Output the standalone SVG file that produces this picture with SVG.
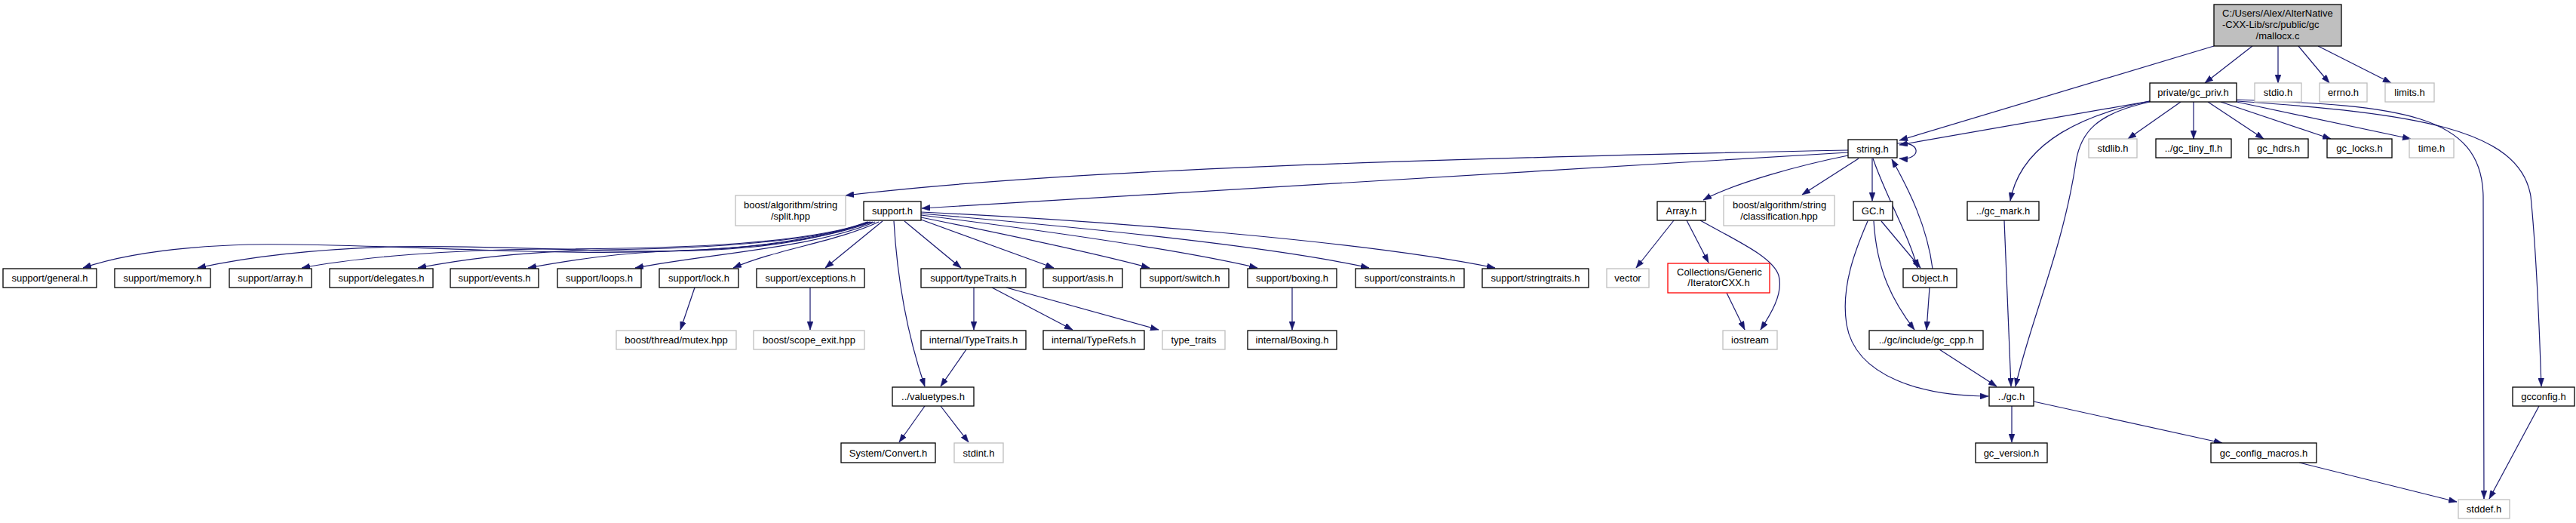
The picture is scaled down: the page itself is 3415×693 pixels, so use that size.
<svg xmlns="http://www.w3.org/2000/svg" width="3415" height="693" viewBox="0 0 3415 693">
<style>
.n rect{fill:#fff;stroke:#000;stroke-width:1.3}
.n.x rect{stroke:#bfbfbf}
.n.r rect{stroke:#ff0000}
.n.m rect{fill:#bfbfbf}
text{font-family:"Liberation Sans",Arial,sans-serif;font-size:13px;text-anchor:middle;fill:#000}
text.l{text-anchor:start}
.e path{fill:none;stroke:#191970;stroke-width:1.2;marker-end:url(#a)}
</style>
<defs>
<marker id="a" markerUnits="userSpaceOnUse" markerWidth="11" markerHeight="8" viewBox="0 0 11 8" refX="11" refY="4" orient="auto">
<path d="M0,0 L11,4 L0,8 z" fill="#191970" stroke="#191970" stroke-width="0.5"/>
</marker>
</defs>
<rect width="3415" height="693" fill="#fff"/>
<g id="edges" class="e">
<path d="M2935,61 L2518,186"/>
<path d="M2986,61 L2923,110"/>
<path d="M3020,61 L3020,110"/>
<path d="M3047,61 L3088,110"/>
<path d="M3073,61 L3170,110"/>
<path d="M2850,134 L2518,192"/>
<path d="M2891,135 L2821,184"/>
<path d="M2908,135 L2908,184"/>
<path d="M2927,135 L3001,184"/>
<path d="M2944,135 L3090,184"/>
<path d="M2965,135 L3196,184"/>
<path d="M2850,134 C2770,150 2680,185 2665,266"/>
<path d="M2850,135 C2780,150 2758,175 2752,215 C2735,330 2690,430 2672,512"/>
<path d="M2965,132 C3180,140 3290,150 3292,260 L3293,661"/>
<path d="M2965,134 C3200,150 3340,170 3355,260 C3362,330 3366,420 3369,512"/>
<path d="M2515,190 C2548,186 2548,213 2518,210"/>
<path d="M2450,199 C1900,210 1400,225 1121,259"/>
<path d="M2450,202 L1222,276"/>
<path d="M2450,206 C2390,218 2300,242 2258,265"/>
<path d="M2464,210 L2389,258"/>
<path d="M2482,210 L2482,266"/>
<path d="M2483,210 C2500,260 2530,310 2542,355"/>
<path d="M2562,356 C2555,300 2530,250 2508,211"/>
<path d="M1150,294 C1050,330 900,338 700,333 C550,329 420,322 330,324 C230,327 160,338 110,355"/>
<path d="M1151,294 C1060,328 950,336 800,332 C700,329 600,325 520,327 C420,330 330,340 262,355"/>
<path d="M1153,294 C1070,322 920,330 720,330 C600,331 480,340 400,355"/>
<path d="M1155,294 C1080,320 950,329 800,331 C700,333 620,342 554,355"/>
<path d="M1157,294 C1090,318 1000,329 900,332 C820,335 760,344 700,355"/>
<path d="M1160,294 C1080,328 950,335 842,355"/>
<path d="M1165,294 C1110,320 1030,330 972,355"/>
<path d="M1170,293 L1094,355"/>
<path d="M1185,293 C1190,380 1205,450 1226,512"/>
<path d="M1199,293 L1274,355"/>
<path d="M1221,291 L1397,355"/>
<path d="M1221,288 C1330,310 1450,335 1524,355"/>
<path d="M1221,285 C1380,305 1560,330 1667,355"/>
<path d="M1221,283 C1420,300 1680,325 1815,355"/>
<path d="M1221,281 C1450,292 1800,318 1982,355"/>
<path d="M921,381 L902,437"/>
<path d="M1074,381 L1074,437"/>
<path d="M1291,381 L1291,437"/>
<path d="M1315,381 L1422,437"/>
<path d="M1334,381 L1536,437"/>
<path d="M1713,381 L1713,437"/>
<path d="M1281,463 L1247,512"/>
<path d="M1226,538 L1192,586"/>
<path d="M1247,538 L1284,586"/>
<path d="M2219,292 L2169,355"/>
<path d="M2236,292 L2265,348"/>
<path d="M2254,292 C2300,318 2350,340 2358,365 C2365,390 2345,420 2334,437"/>
<path d="M2289,388 L2313,437"/>
<path d="M2494,293 L2546,355"/>
<path d="M2484,293 C2488,360 2510,400 2538,437"/>
<path d="M2476,293 C2460,330 2440,380 2448,430 C2460,500 2550,525 2636,525"/>
<path d="M2558,381 L2554,437"/>
<path d="M2571,463 L2647,512"/>
<path d="M2657,292 L2666,512"/>
<path d="M2667,538 L2667,586"/>
<path d="M2696,532 L2946,587"/>
<path d="M3048,613 L3257,665"/>
<path d="M3366,538 L3300,661"/>
</g>
<g id="n_main" class="n m"><rect x="2935" y="6" width="169" height="55"/><text class="l" x="2946" y="22">C:/Users/Alex/AlterNative</text><text class="l" x="2946" y="37">-CXX-Lib/src/public/gc</text><text x="3019.5" y="52">/mallocx.c</text></g>
<g id="n_gc_priv" class="n"><rect x="2850" y="110" width="115" height="25"/><text x="2907.5" y="127">private/gc_priv.h</text></g>
<g id="n_stdio" class="n x"><rect x="2989" y="110" width="62" height="25"/><text x="3020" y="127">stdio.h</text></g>
<g id="n_errno" class="n x"><rect x="3075" y="110" width="63" height="25"/><text x="3106.5" y="127">errno.h</text></g>
<g id="n_limits" class="n x"><rect x="3162" y="110" width="65" height="25"/><text x="3194.5" y="127">limits.h</text></g>
<g id="n_string" class="n"><rect x="2450" y="185" width="65" height="24"/><text x="2482.5" y="201.5">string.h</text></g>
<g id="n_stdlib" class="n x"><rect x="2769" y="184" width="64" height="25"/><text x="2801" y="201">stdlib.h</text></g>
<g id="n_gc_tiny_fl" class="n"><rect x="2858" y="184" width="100" height="25"/><text x="2908" y="201">../gc_tiny_fl.h</text></g>
<g id="n_gc_hdrs" class="n"><rect x="2981" y="184" width="79" height="25"/><text x="3020.5" y="201">gc_hdrs.h</text></g>
<g id="n_gc_locks" class="n"><rect x="3085" y="184" width="86" height="25"/><text x="3128" y="201">gc_locks.h</text></g>
<g id="n_time" class="n x"><rect x="3194" y="184" width="59" height="25"/><text x="3223.5" y="201">time.h</text></g>
<g id="n_split" class="n x"><rect x="975" y="259" width="146" height="40"/><text class="l" x="986" y="275.5">boost/algorithm/string</text><text x="1048" y="290.5">/split.hpp</text></g>
<g id="n_support" class="n"><rect x="1145" y="267" width="76" height="25"/><text x="1183" y="284">support.h</text></g>
<g id="n_Array" class="n"><rect x="2197" y="267" width="64" height="25"/><text x="2229" y="284">Array.h</text></g>
<g id="n_classification" class="n x"><rect x="2285" y="259" width="147" height="40"/><text class="l" x="2297" y="275.5">boost/algorithm/string</text><text x="2358.5" y="290.5">/classification.hpp</text></g>
<g id="n_GC" class="n"><rect x="2457" y="267" width="52" height="25"/><text x="2483" y="284">GC.h</text></g>
<g id="n_gc_mark" class="n"><rect x="2608" y="267" width="95" height="25"/><text x="2655.5" y="284">../gc_mark.h</text></g>
<g id="n_general" class="n"><rect x="4" y="356" width="124" height="25"/><text x="66" y="373">support/general.h</text></g>
<g id="n_memory" class="n"><rect x="152" y="356" width="127" height="25"/><text x="215.5" y="373">support/memory.h</text></g>
<g id="n_array" class="n"><rect x="304" y="356" width="109" height="25"/><text x="358.5" y="373">support/array.h</text></g>
<g id="n_delegates" class="n"><rect x="437" y="356" width="137" height="25"/><text x="505.5" y="373">support/delegates.h</text></g>
<g id="n_events" class="n"><rect x="597" y="356" width="117" height="25"/><text x="655.5" y="373">support/events.h</text></g>
<g id="n_loops" class="n"><rect x="739" y="356" width="111" height="25"/><text x="794.5" y="373">support/loops.h</text></g>
<g id="n_lock" class="n"><rect x="874" y="356" width="105" height="25"/><text x="926.5" y="373">support/lock.h</text></g>
<g id="n_exceptions" class="n"><rect x="1003" y="356" width="143" height="25"/><text x="1074.5" y="373">support/exceptions.h</text></g>
<g id="n_typeTraits" class="n"><rect x="1221" y="356" width="139" height="25"/><text x="1290.5" y="373">support/typeTraits.h</text></g>
<g id="n_asis" class="n"><rect x="1383" y="356" width="105" height="25"/><text x="1435.5" y="373">support/asis.h</text></g>
<g id="n_switch" class="n"><rect x="1512" y="356" width="117" height="25"/><text x="1570.5" y="373">support/switch.h</text></g>
<g id="n_boxing" class="n"><rect x="1654" y="356" width="118" height="25"/><text x="1713" y="373">support/boxing.h</text></g>
<g id="n_constraints" class="n"><rect x="1797" y="356" width="144" height="25"/><text x="1869" y="373">support/constraints.h</text></g>
<g id="n_stringtraits" class="n"><rect x="1965" y="356" width="141" height="25"/><text x="2035.5" y="373">support/stringtraits.h</text></g>
<g id="n_vector" class="n x"><rect x="2130" y="356" width="56" height="25"/><text x="2158" y="373">vector</text></g>
<g id="n_IteratorCXX" class="n r"><rect x="2211" y="349" width="135" height="39"/><text class="l" x="2223" y="364.5">Collections/Generic</text><text x="2278.5" y="378.5">/IteratorCXX.h</text></g>
<g id="n_Object" class="n"><rect x="2523" y="356" width="71" height="25"/><text x="2558.5" y="373">Object.h</text></g>
<g id="n_mutex" class="n x"><rect x="817" y="438" width="159" height="25"/><text x="896.5" y="455">boost/thread/mutex.hpp</text></g>
<g id="n_scope_exit" class="n x"><rect x="999" y="438" width="147" height="25"/><text x="1072.5" y="455">boost/scope_exit.hpp</text></g>
<g id="n_iTypeTraits" class="n"><rect x="1221" y="438" width="139" height="25"/><text x="1290.5" y="455">internal/TypeTraits.h</text></g>
<g id="n_TypeRefs" class="n"><rect x="1383" y="438" width="134" height="25"/><text x="1450" y="455">internal/TypeRefs.h</text></g>
<g id="n_type_traits" class="n x"><rect x="1541" y="438" width="83" height="25"/><text x="1582.5" y="455">type_traits</text></g>
<g id="n_Boxing" class="n"><rect x="1654" y="438" width="118" height="25"/><text x="1713" y="455">internal/Boxing.h</text></g>
<g id="n_iostream" class="n x"><rect x="2284" y="438" width="72" height="25"/><text x="2320" y="455">iostream</text></g>
<g id="n_gc_cpp" class="n"><rect x="2478" y="438" width="151" height="25"/><text x="2553.5" y="455">../gc/include/gc_cpp.h</text></g>
<g id="n_valuetypes" class="n"><rect x="1183" y="513" width="108" height="25"/><text x="1237" y="530">../valuetypes.h</text></g>
<g id="n_gc" class="n"><rect x="2637" y="513" width="59" height="25"/><text x="2666.5" y="530">../gc.h</text></g>
<g id="n_gcconfig" class="n"><rect x="3331" y="513" width="82" height="25"/><text x="3372" y="530">gcconfig.h</text></g>
<g id="n_Convert" class="n"><rect x="1115" y="587" width="125" height="26"/><text x="1177.5" y="604.5">System/Convert.h</text></g>
<g id="n_stdint" class="n x"><rect x="1265" y="587" width="65" height="26"/><text x="1297.5" y="604.5">stdint.h</text></g>
<g id="n_gc_version" class="n"><rect x="2619" y="587" width="95" height="26"/><text x="2666.5" y="604.5">gc_version.h</text></g>
<g id="n_gc_config_macros" class="n"><rect x="2931" y="587" width="140" height="26"/><text x="3001" y="604.5">gc_config_macros.h</text></g>
<g id="n_stddef" class="n x"><rect x="3259" y="662" width="68" height="25"/><text x="3293" y="679">stddef.h</text></g>
</svg>
